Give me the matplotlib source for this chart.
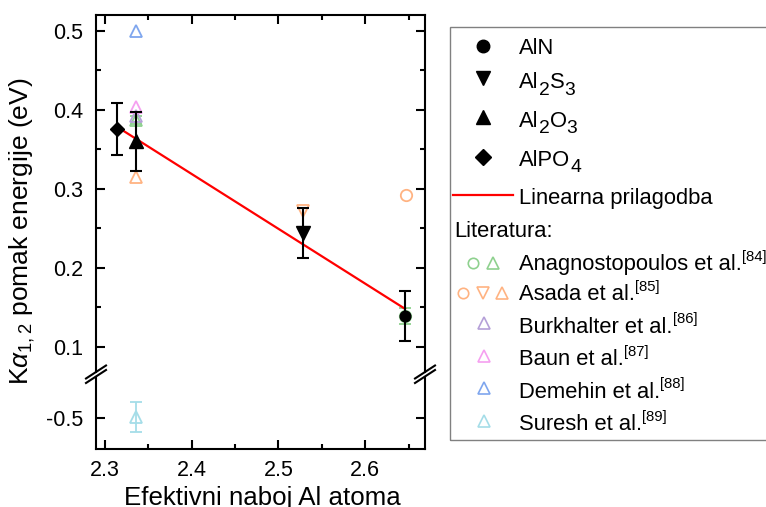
import numpy as np
import matplotlib
matplotlib.use("Agg")
import matplotlib.pyplot as plt
from matplotlib.lines import Line2D
from matplotlib.patches import Rectangle
from matplotlib.ticker import MultipleLocator, FixedLocator

plt.rcParams['font.family'] = ['Liberation Sans', 'DejaVu Sans']
plt.rcParams['mathtext.fontset'] = 'custom'
plt.rcParams['mathtext.rm'] = 'Liberation Sans'
plt.rcParams['mathtext.it'] = 'Liberation Sans:italic'
plt.rcParams['axes.unicode_minus'] = False

W, H, DPI = 766, 507, 100

# ---- measured compounds ----
compounds = [[('AlN', 'n')],
             [('Al', 'n'), ('2', 'sub'), ('S', 'n'), ('3', 'sub')],
             [('Al', 'n'), ('2', 'sub'), ('O', 'n'), ('3', 'sub')],
             [('AlPO', 'n'), ('4', 'sub')]]
comp_markers = ['o', 'v', '^', 'D']
comp_ms = [7.7, 10.5, 10.5, 7.4]
charge = [2.646, 2.528, 2.336, 2.314]
shift = [0.139, 0.244, 0.360, 0.376]
shift_err = [0.032, 0.032, 0.037, 0.033]
fit_label = 'Linearna prilagodba'

# ---- literature values ----
lit_names = ['Anagnostopoulos et al.', 'Asada et al.', 'Burkhalter et al.',
             'Baun et al.', 'Demehin et al.', 'Suresh et al.']
lit_refs = ['[84]', '[85]', '[86]', '[87]', '[88]', '[89]']
lit_colors = ['#8fd18f', '#ffb382', '#b5a0d8', '#f5a0f0', '#7fa6ee', '#a5dde8']

anag_x, anag_y, anag_err, anag_m = [2.336, 2.646], [0.387, 0.139], [0.0055, 0.010], ['^', 'o']
asada_x, asada_y, asada_err, asada_m = [2.336, 2.528, 2.647], [0.315, 0.272, 0.292], [0, 0, 0], ['^', 'v', 'o']
burk_x, burk_y, burk_err, burk_m = [2.336], [0.392], [0], ['^']
baun_x, baun_y, baun_err, baun_m = [2.336], [0.403], [0], ['^']
deme_x, deme_y, deme_err, deme_m = [2.336], [0.500], [0], ['^']
sure_x, sure_y, sure_err, sure_m = [2.336], [-0.499], [0.019], ['^']

lit_sets = [(anag_x, anag_y, anag_err, anag_m),
            (asada_x, asada_y, asada_err, asada_m),
            (burk_x, burk_y, burk_err, burk_m),
            (baun_x, baun_y, baun_err, baun_m),
            (deme_x, deme_y, deme_err, deme_m),
            (sure_x, sure_y, sure_err, sure_m)]

x_ticks = [2.3, 2.4, 2.5, 2.6]
xlim = (2.2896, 2.669)
ylim_top = (0.0680, 0.5199)
ylim_bot = (-0.5389, -0.4471)

fig = plt.figure(figsize=(W / DPI, H / DPI), dpi=DPI)


def fx(px):
    return px / W


def fy(py):
    return 1 - py / H


ax_t = fig.add_axes([fx(96), fy(372), (425 - 96) / W, (372 - 15) / H])
ax_b = fig.add_axes([fx(96), fy(449), (425 - 96) / W, (449 - 376.5) / H])

for ax in (ax_t, ax_b):
    ax.set_xlim(*xlim)
    ax.xaxis.set_major_locator(FixedLocator(x_ticks))
    ax.xaxis.set_minor_locator(MultipleLocator(0.05))
    for s in ax.spines.values():
        s.set_linewidth(1.5)
    ax.tick_params(which='both', direction='in', width=1.5, labelsize=15.5,
                   left=True, right=True, pad=9)
    ax.tick_params(which='major', length=6.5)
    ax.tick_params(which='minor', length=3.5)

ax_t.set_ylim(*ylim_top)
ax_t.yaxis.set_major_locator(MultipleLocator(0.1))
ax_t.yaxis.set_minor_locator(MultipleLocator(0.05))
ax_t.spines['bottom'].set_visible(False)
ax_t.tick_params(which='both', top=True, bottom=False, labelbottom=False)

ax_b.set_ylim(*ylim_bot)
ax_b.yaxis.set_major_locator(FixedLocator([-0.5]))
ax_b.yaxis.set_minor_locator(FixedLocator([]))
ax_b.spines['top'].set_visible(False)
ax_b.tick_params(which='both', top=False, bottom=True)
ax_b.tick_params(axis='x', pad=8)
ax_b.set_xticklabels([f'{v:.1f}' for v in x_ticks])
ax_t.set_yticklabels([f'{v:.1f}' for v in ax_t.get_yticks()])
ax_b.set_yticklabels(['-0.5'])

# literature points (drawn under the measured data)
for (xs, ys, es, ms), col in zip(lit_sets, lit_colors):
    for x, y, e, m in zip(xs, ys, es, ms):
        ax = ax_t if y > 0 else ax_b
        size = 8.5 if m != 'o' else 8.2
        if e > 0:
            ax.errorbar([x], [y], yerr=[e], fmt='none', ecolor=col,
                        elinewidth=1.3, capsize=4.5, capthick=1.3, zorder=2)
        ax.plot([x], [y], ls='none', marker=m, ms=size, mfc='none',
                mec=col, mew=1.3, zorder=2, clip_on=False)

# linear fit through measured points
k, n = np.polyfit(charge, shift, 1)
xf = np.array([min(charge), max(charge)])
ax_t.plot(xf, k * xf + n, color='#ff0000', lw=1.6, zorder=3)

# measured compounds
for x, y, e, m, s in zip(charge, shift, shift_err, comp_markers, comp_ms):
    ax_t.errorbar([x], [y], yerr=[e], fmt='none', ecolor='black',
                  elinewidth=1.5, capsize=4.5, capthick=1.5, zorder=4)
    ax_t.plot([x], [y], ls='none', marker=m, ms=s, color='black', zorder=5)

# axis break marks
for xs in (96, 425):
    for yc in (372, 376.5):
        fig.add_artist(Line2D([fx(xs - 10), fx(xs + 10)],
                              [fy(yc + 6.5), fy(yc - 6.5)],
                              color='black', lw=1.5, transform=fig.transFigure))

# axis labels
fig.text(fx(262), fy(505), 'Efektivni naboj Al atoma', fontsize=18.6,
         ha='center', va='baseline')
fig.text(fx(22), fy(231), r'K$\alpha_{1,2}$ pomak energije (eV)', fontsize=19,
         ha='center', va='center', rotation=90)

# legend
FS = 15.8
renderer = fig.canvas.get_renderer()


def rich_text(x_px, y_base, parts, fs=FS):
    x = x_px
    for s, kind in parts:
        size, dy = fs, 0
        if kind == 'sub':
            size, dy = fs * 0.88, -6.5
        elif kind == 'sup':
            size, dy = fs * 0.68, 9.5
        t = fig.text(fx(x), fy(y_base - dy), s, fontsize=size,
                     ha='left', va='baseline')
        x += t.get_window_extent(renderer).width


fig.add_artist(Rectangle((fx(450), fy(440)), fx(800 - 450), (440 - 27) / H,
                         transform=fig.transFigure, fill=False,
                         edgecolor='#808080', lw=1.0))

leg_mark_y = [46, 78.3, 116.7, 156.7]
leg_base_y = [54.3, 88.3, 126.7, 165.7]
leg_ms = [9, 9.5, 9.5, 8]
for parts, m, ym, yb, s in zip(compounds, comp_markers, leg_mark_y, leg_base_y, leg_ms):
    fig.add_artist(Line2D([fx(483)], [fy(ym)], ls='none', marker=m, ms=s,
                          color='black', transform=fig.transFigure))
    rich_text(519.3, yb, parts)

fig.add_artist(Line2D([fx(453), fx(513)], [fy(195), fy(195)], color='#ff0000',
                      lw=1.6, transform=fig.transFigure))
rich_text(519.3, 204.3, [(fit_label, 'n')])

rich_text(454, 237.3, [('Literatura:', 'n')])

lit_mark_y = [262.7, 293.3, 323.3, 356, 388.3, 421]
lit_base_y = [270, 300.3, 332.7, 365.3, 397.7, 430]
lit_leg_x = [[473, 493], [463, 483, 502], [484], [484], [484], [484]]
lit_leg_m = [['o', '^'], ['o', 'v', '^'], ['^'], ['^'], ['^'], ['^']]
for name, ref, col, ym, yb, xs, ms in zip(lit_names, lit_refs, lit_colors,
                                           lit_mark_y, lit_base_y, lit_leg_x, lit_leg_m):
    for x, m in zip(xs, ms):
        fig.add_artist(Line2D([fx(x)], [fy(ym)], ls='none', marker=m,
                              ms=8 if m != 'o' else 7.5, mfc='none', mec=col,
                              mew=1.2, transform=fig.transFigure))
    rich_text(519.3, yb, [(name, 'n'), (ref, 'sup')])

fig.savefig('out.png', dpi=DPI)
